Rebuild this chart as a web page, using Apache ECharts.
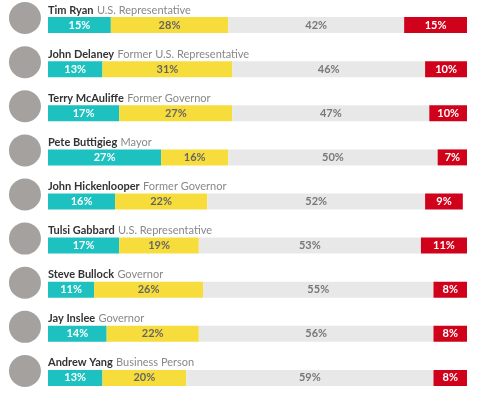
<!DOCTYPE html><html><head><meta charset="utf-8"><script src="https://cdn.jsdelivr.net/npm/echarts@6/dist/echarts.min.js"></script>
<style>html,body{margin:0;padding:0;background:#fff}#c{width:480px;height:400px}</style></head><body><div id="c"></div><script>
const names=["Tim Ryan","John Delaney","Terry McAuliffe","Pete Buttigieg","John Hickenlooper","Tulsi Gabbard","Steve Bullock","Jay Inslee","Andrew Yang"];
const titles=["U.S. Representative","Former U.S. Representative","Former Governor","Mayor","Former Governor","U.S. Representative","Governor","Governor","Business Person"];
const teal=[15,13,17,27,16,17,11,14,13];
const yellow=[28,31,27,16,22,19,26,22,20];
const gray=[42,46,47,50,52,53,55,56,59];
const red=[15,10,10,7,9,11,8,8,8];
const ch=echarts.init(document.getElementById('c'));
const F='Lato, "Open Sans", sans-serif';
function s(name,data,color,tc){return{name,type:'bar',stack:'a',data,barWidth:16,itemStyle:{color},
label:{show:true,position:'inside',formatter:'{c}%',color:tc,fontSize:11,fontWeight:'bold',fontFamily:F},silent:true};}
ch.setOption({animation:false,
grid:{left:48,right:13,top:3,height:400},
xAxis:{type:'value',min:0,max:100,show:false},
yAxis:{type:'category',inverse:true,data:names,axisLine:{show:false},axisTick:{show:false},
axisLabel:{inside:true,align:'left',verticalAlign:'bottom',padding:[0,0,9,0],margin:0,
formatter:(v,i)=>'{n|'+v+'} {t|'+titles[i]+'}',
rich:{n:{fontWeight:'bold',fontSize:11,color:'#333',fontFamily:F},t:{fontSize:11,color:'#888',fontFamily:F}}}},
series:[s('a',teal,'#1cc1c0','#fff'),s('b',yellow,'#f7dd3c','#666'),s('c',gray,'#e8e8e8','#777'),s('d',red,'#d0021b','#fff'),
{type:'scatter',data:names.map((n,i)=>[-5.5,n]),clip:false,symbolSize:32,symbolOffset:[0,-7],itemStyle:{color:'#8f8a86'},silent:true,z:1}]
});
</script></body></html>
